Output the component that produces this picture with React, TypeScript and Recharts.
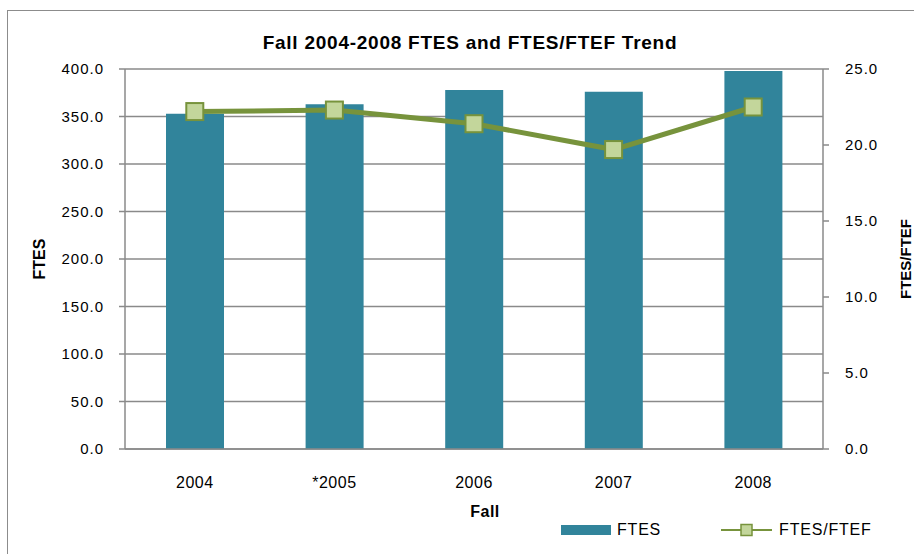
import React from 'react';
import { ComposedChart, Bar, Line, XAxis, YAxis, CartesianGrid, Legend, Label } from 'recharts';

const years = ['2004', '*2005', '2006', '2007', '2008'];
const ftes = [353, 363, 378, 376, 398];
const ftesPerFtef = [22.2, 22.3, 21.4, 19.7, 22.5];
const leftTicks = [0, 50, 100, 150, 200, 250, 300, 350, 400];
const rightTicks = [0, 5, 10, 15, 20, 25];

const data = years.map((y, i) => ({ year: y, ftes: ftes[i], ratio: ftesPerFtef[i] }));

const FONT = '"Liberation Sans", Arial, sans-serif';
const GRID = '#8a8a8a';
const BAR = '#31849B';
const LINE = '#77933C';
const MARK = '#C3D69B';

const SquareDot = (props: any) => {
  const { cx, cy } = props;
  if (cx == null || cy == null) return null;
  return <rect x={cx - 8.5} y={cy - 8.5} width={17} height={17} fill={MARK} stroke={LINE} strokeWidth={2} />;
};

const LegendContent = () => (
  <div style={{ display: 'flex', alignItems: 'center', fontFamily: FONT, fontSize: 16, letterSpacing: 0.8, color: '#000', whiteSpace: 'nowrap' }}>
    <svg width={50} height={10} style={{ display: 'block' }}>
      <rect x={0} y={0} width={50} height={10} fill={BAR} />
    </svg>
    <span style={{ marginLeft: 6 }}>FTES</span>
    <svg width={51} height={14} style={{ display: 'block', marginLeft: 60 }}>
      <line x1={0} y1={7} x2={51} y2={7} stroke={LINE} strokeWidth={2} />
      <rect x={20} y={1.5} width={11} height={11} fill={MARK} stroke={LINE} strokeWidth={1.5} />
    </svg>
    <span style={{ marginLeft: 7 }}>FTES/FTEF</span>
  </div>
);

export default function App() {
  return (
    <div style={{ position: 'absolute', left: 0, top: 0, width: 914, height: 554, background: '#fff', overflow: 'hidden' }}>
      <div style={{ position: 'absolute', left: 7, top: 10, width: 920, height: 560, borderLeft: '1px solid #8c8c8c', borderTop: '1px solid #8c8c8c' }} />
      <ComposedChart
        width={914}
        height={554}
        data={data}
        margin={{ top: 69, right: 0, bottom: 35, left: 0 }}
        style={{ fontFamily: FONT }}
      >
        <CartesianGrid vertical={false} stroke={GRID} strokeWidth={1.5} yAxisId="left" />
        <XAxis
          dataKey="year"
          height={70}
          tickLine={false}
          tickSize={0}
          tickMargin={28}
          axisLine={{ stroke: GRID, strokeWidth: 1.5 }}
          tick={{ fontSize: 16, fill: '#000', fontFamily: FONT, letterSpacing: 0.5 }}
          interval={0}
        >
          <Label value="Fall" position="insideBottom" offset={2} dx={11} style={{ fontSize: 16, fontWeight: 700, fill: '#000', fontFamily: FONT, letterSpacing: 0.5 }} />
        </XAxis>
        <YAxis
          yAxisId="left"
          width={125}
          domain={[0, 400]}
          ticks={leftTicks}
          tickFormatter={(v: number) => v.toFixed(1)}
          tickSize={6}
          tickMargin={15}
          tickLine={{ stroke: GRID, strokeWidth: 1.5 }}
          axisLine={{ stroke: GRID, strokeWidth: 1.5 }}
          tick={{ fontSize: 15, fill: '#000', fontFamily: FONT, letterSpacing: 1 }}
          interval={0}
        >
          <Label value="FTES" angle={-90} position="insideLeft" offset={39} style={{ fontSize: 16, fontWeight: 700, fill: '#000', fontFamily: FONT, textAnchor: 'middle' }} />
        </YAxis>
        <YAxis
          yAxisId="right"
          orientation="right"
          width={91}
          domain={[0, 25]}
          ticks={rightTicks}
          tickFormatter={(v: number) => v.toFixed(1)}
          tickSize={6}
          tickMargin={16}
          tickLine={{ stroke: GRID, strokeWidth: 1.5 }}
          axisLine={{ stroke: GRID, strokeWidth: 1.5 }}
          tick={{ fontSize: 15, fill: '#000', fontFamily: FONT, letterSpacing: 1 }}
          interval={0}
        >
          <Label value="FTES/FTEF" angle={-90} position="insideRight" offset={8} style={{ fontSize: 15, fontWeight: 700, fill: '#000', fontFamily: FONT, textAnchor: 'middle' }} />
        </YAxis>
        <Bar yAxisId="left" dataKey="ftes" name="FTES" fill={BAR} barSize={58} isAnimationActive={false} />
        <Line
          yAxisId="right"
          dataKey="ratio"
          name="FTES/FTEF"
          stroke={LINE}
          strokeWidth={5}
          dot={<SquareDot />}
          activeDot={false}
          isAnimationActive={false}
        />
        <Legend
          verticalAlign="middle"
          align="center"
          layout="horizontal"
          content={<LegendContent />}
          wrapperStyle={{ top: 521, left: 561, width: 340, height: 20 }}
        />
      </ComposedChart>
      <svg width={914} height={554} style={{ position: 'absolute', left: 0, top: 0, pointerEvents: 'none' }}>
        <text x={470} y={49} textAnchor="middle" fontFamily={FONT} fontSize={19} fontWeight={700} letterSpacing={0.75} fill="#000">
          Fall 2004-2008 FTES and FTES/FTEF Trend
        </text>
      </svg>
    </div>
  );
}
